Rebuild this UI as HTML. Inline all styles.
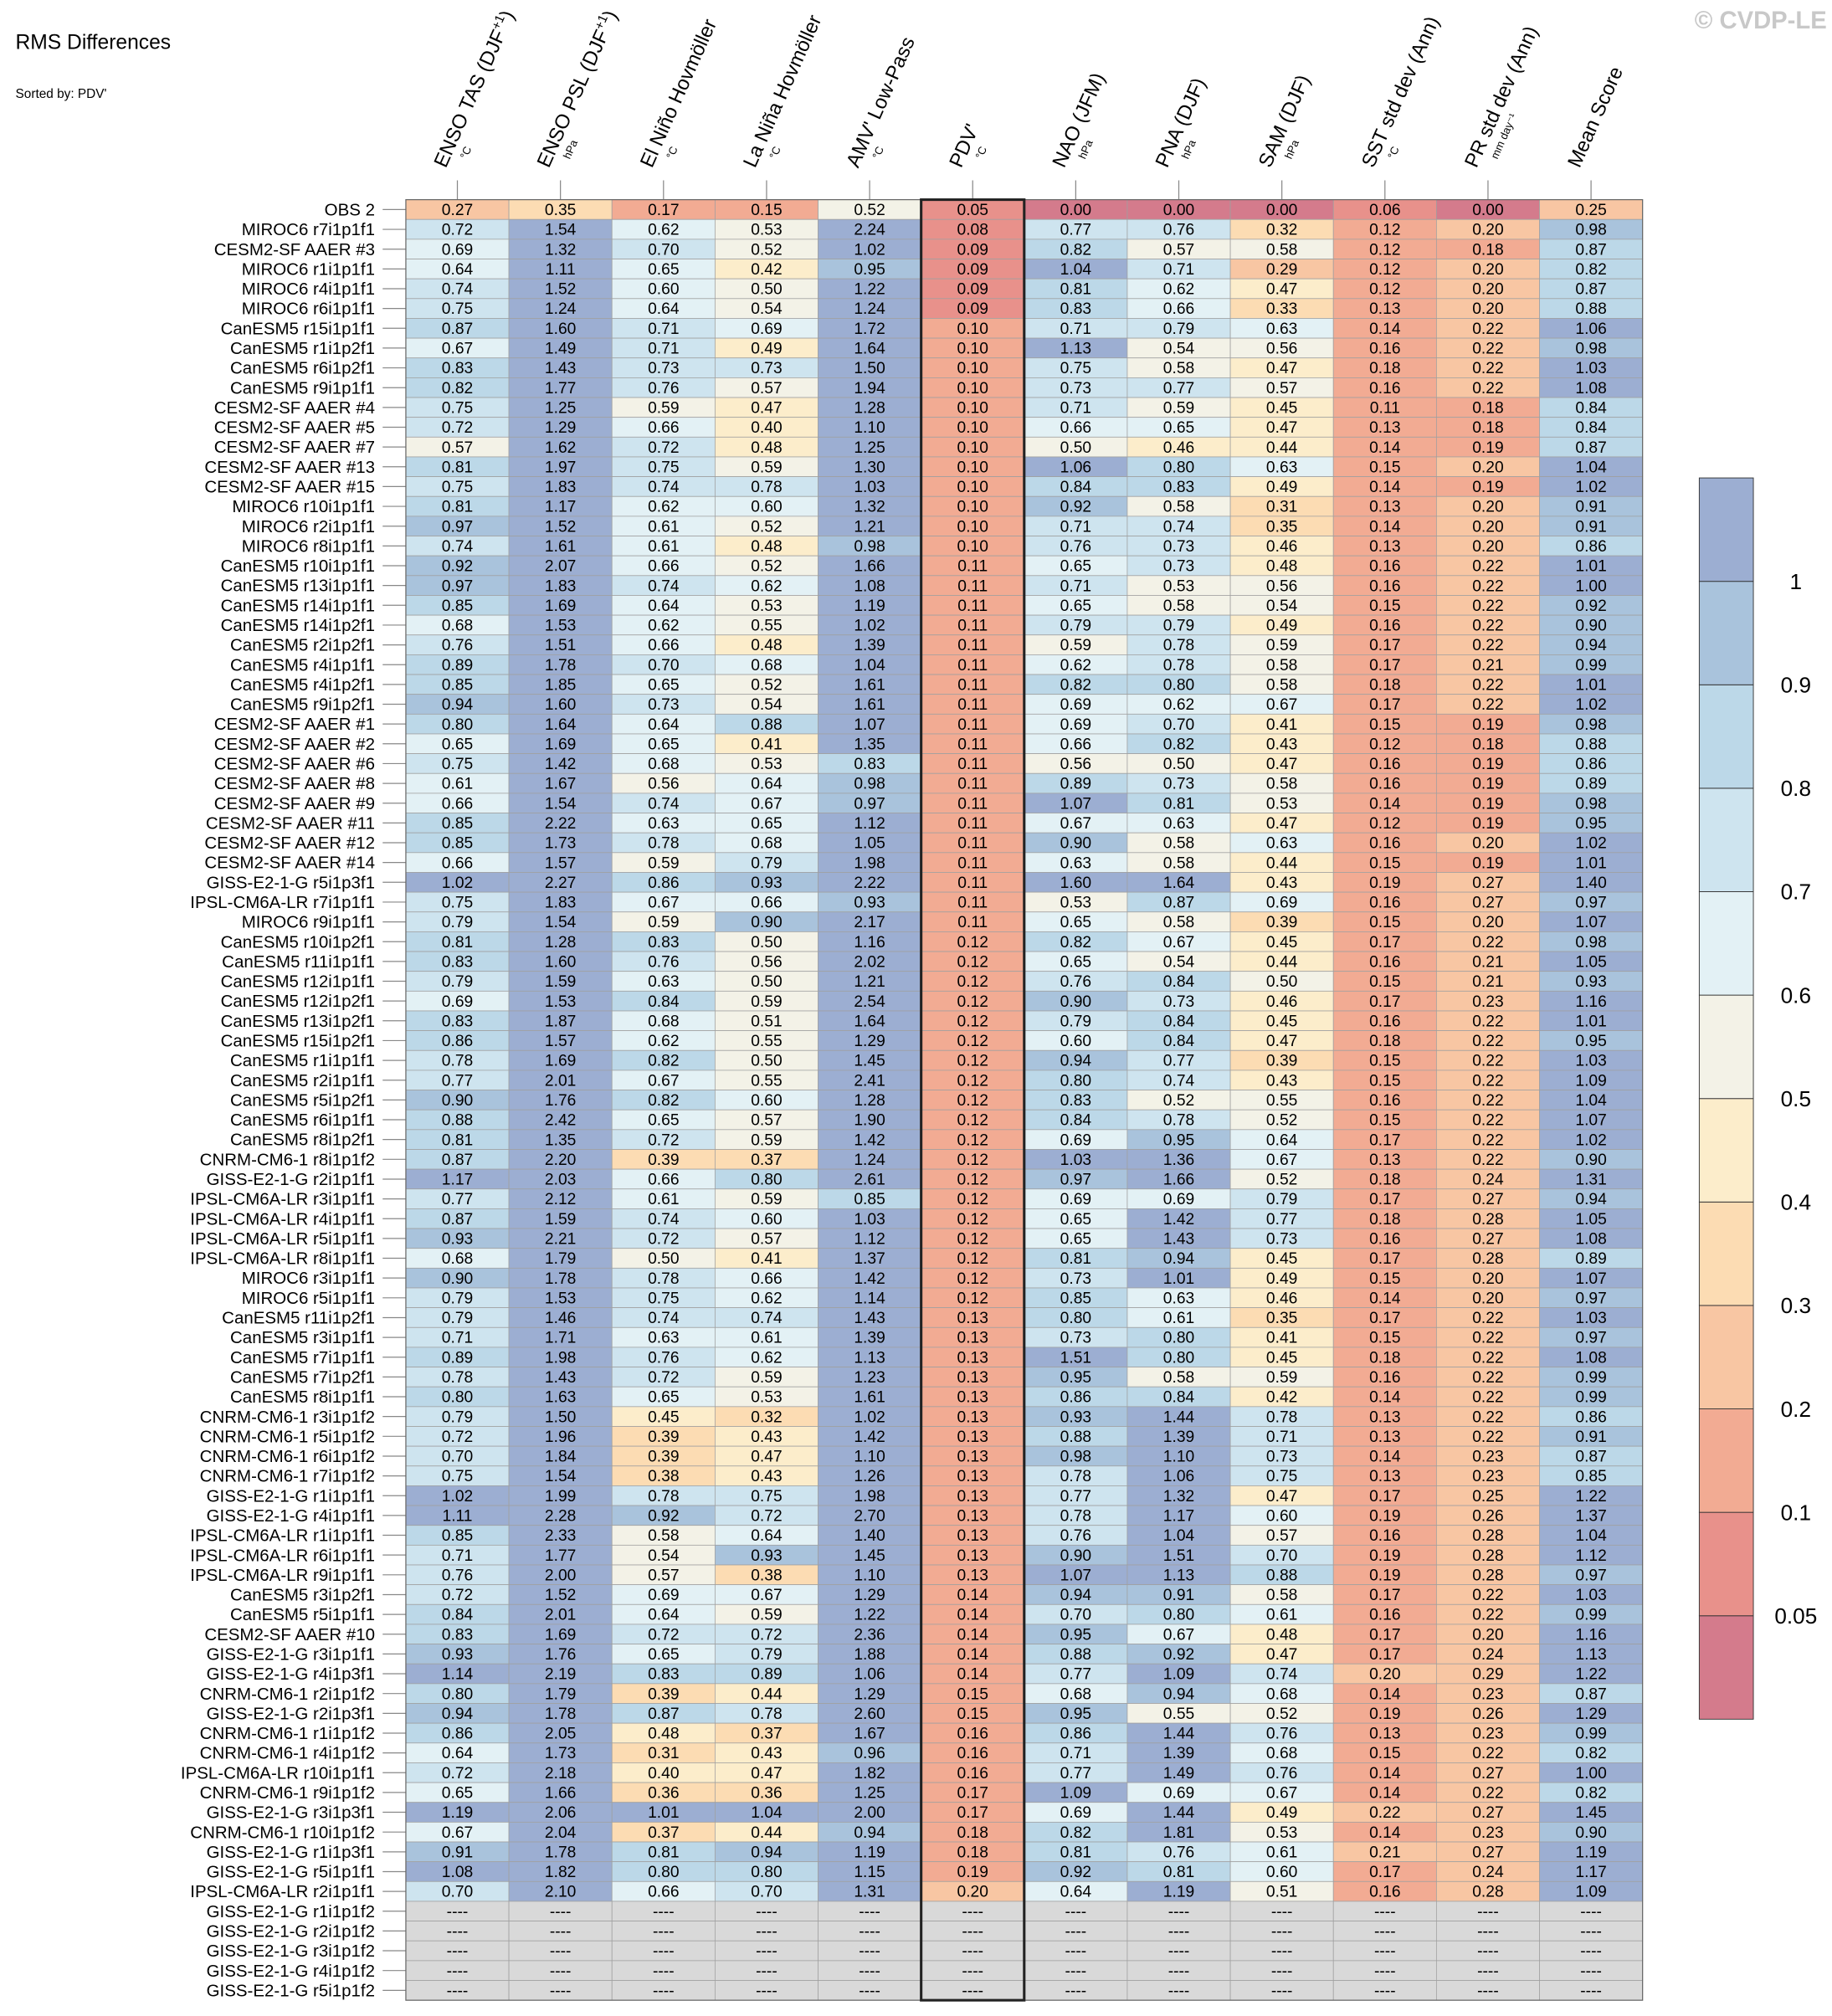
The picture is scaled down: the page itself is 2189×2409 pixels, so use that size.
<!DOCTYPE html>
<html><head><meta charset="utf-8"><style>
html,body{margin:0;padding:0;background:#fff;}
svg{display:block;font-family:"Liberation Sans",sans-serif;}
</style></head><body>
<svg id="chart" width="2189" height="2409" viewBox="0 0 1422 1565" xmlns="http://www.w3.org/2000/svg">
<text x="12" y="38" font-size="16">RMS Differences</text>
<text x="12" y="76" font-size="10">Sorted by: PDV'</text>
<text x="1418" y="22" font-size="19" font-weight="bold" fill="#c8c8c8" text-anchor="end">© CVDP-LE</text>
<g id="heat"></g>
<g id="cbar"></g>
</svg>
<script>
const rowNames = ["OBS 2","MIROC6 r7i1p1f1","CESM2-SF AAER #3","MIROC6 r1i1p1f1","MIROC6 r4i1p1f1","MIROC6 r6i1p1f1","CanESM5 r15i1p1f1","CanESM5 r1i1p2f1","CanESM5 r6i1p2f1","CanESM5 r9i1p1f1","CESM2-SF AAER #4","CESM2-SF AAER #5","CESM2-SF AAER #7","CESM2-SF AAER #13","CESM2-SF AAER #15","MIROC6 r10i1p1f1","MIROC6 r2i1p1f1","MIROC6 r8i1p1f1","CanESM5 r10i1p1f1","CanESM5 r13i1p1f1","CanESM5 r14i1p1f1","CanESM5 r14i1p2f1","CanESM5 r2i1p2f1","CanESM5 r4i1p1f1","CanESM5 r4i1p2f1","CanESM5 r9i1p2f1","CESM2-SF AAER #1","CESM2-SF AAER #2","CESM2-SF AAER #6","CESM2-SF AAER #8","CESM2-SF AAER #9","CESM2-SF AAER #11","CESM2-SF AAER #12","CESM2-SF AAER #14","GISS-E2-1-G r5i1p3f1","IPSL-CM6A-LR r7i1p1f1","MIROC6 r9i1p1f1","CanESM5 r10i1p2f1","CanESM5 r11i1p1f1","CanESM5 r12i1p1f1","CanESM5 r12i1p2f1","CanESM5 r13i1p2f1","CanESM5 r15i1p2f1","CanESM5 r1i1p1f1","CanESM5 r2i1p1f1","CanESM5 r5i1p2f1","CanESM5 r6i1p1f1","CanESM5 r8i1p2f1","CNRM-CM6-1 r8i1p1f2","GISS-E2-1-G r2i1p1f1","IPSL-CM6A-LR r3i1p1f1","IPSL-CM6A-LR r4i1p1f1","IPSL-CM6A-LR r5i1p1f1","IPSL-CM6A-LR r8i1p1f1","MIROC6 r3i1p1f1","MIROC6 r5i1p1f1","CanESM5 r11i1p2f1","CanESM5 r3i1p1f1","CanESM5 r7i1p1f1","CanESM5 r7i1p2f1","CanESM5 r8i1p1f1","CNRM-CM6-1 r3i1p1f2","CNRM-CM6-1 r5i1p1f2","CNRM-CM6-1 r6i1p1f2","CNRM-CM6-1 r7i1p1f2","GISS-E2-1-G r1i1p1f1","GISS-E2-1-G r4i1p1f1","IPSL-CM6A-LR r1i1p1f1","IPSL-CM6A-LR r6i1p1f1","IPSL-CM6A-LR r9i1p1f1","CanESM5 r3i1p2f1","CanESM5 r5i1p1f1","CESM2-SF AAER #10","GISS-E2-1-G r3i1p1f1","GISS-E2-1-G r4i1p3f1","CNRM-CM6-1 r2i1p1f2","GISS-E2-1-G r2i1p3f1","CNRM-CM6-1 r1i1p1f2","CNRM-CM6-1 r4i1p1f2","IPSL-CM6A-LR r10i1p1f1","CNRM-CM6-1 r9i1p1f2","GISS-E2-1-G r3i1p3f1","CNRM-CM6-1 r10i1p1f2","GISS-E2-1-G r1i1p3f1","GISS-E2-1-G r5i1p1f1","IPSL-CM6A-LR r2i1p1f1","GISS-E2-1-G r1i1p1f2","GISS-E2-1-G r2i1p1f2","GISS-E2-1-G r3i1p1f2","GISS-E2-1-G r4i1p1f2","GISS-E2-1-G r5i1p1f2"];
const colNames = ["ENSO TAS (DJF","ENSO PSL (DJF","El Niño Hovmöller","La Niña Hovmöller","AMV' Low-Pass","PDV'","NAO (JFM)","PNA (DJF)","SAM (DJF)","SST std dev (Ann)","PR std dev (Ann)","Mean Score"];
const colSup = ["+1","+1","","","","","","","","","",""];
const colUnits = ["°C","hPa","°C","°C","°C","°C","hPa","hPa","hPa","°C","mm day⁻¹",""];
const values = [
[0.27,0.35,0.17,0.15,0.52,0.05,0.00,0.00,0.00,0.06,0.00,0.25],
[0.72,1.54,0.62,0.53,2.24,0.08,0.77,0.76,0.32,0.12,0.20,0.98],
[0.69,1.32,0.70,0.52,1.02,0.09,0.82,0.57,0.58,0.12,0.18,0.87],
[0.64,1.11,0.65,0.42,0.95,0.09,1.04,0.71,0.29,0.12,0.20,0.82],
[0.74,1.52,0.60,0.50,1.22,0.09,0.81,0.62,0.47,0.12,0.20,0.87],
[0.75,1.24,0.64,0.54,1.24,0.09,0.83,0.66,0.33,0.13,0.20,0.88],
[0.87,1.60,0.71,0.69,1.72,0.10,0.71,0.79,0.63,0.14,0.22,1.06],
[0.67,1.49,0.71,0.49,1.64,0.10,1.13,0.54,0.56,0.16,0.22,0.98],
[0.83,1.43,0.73,0.73,1.50,0.10,0.75,0.58,0.47,0.18,0.22,1.03],
[0.82,1.77,0.76,0.57,1.94,0.10,0.73,0.77,0.57,0.16,0.22,1.08],
[0.75,1.25,0.59,0.47,1.28,0.10,0.71,0.59,0.45,0.11,0.18,0.84],
[0.72,1.29,0.66,0.40,1.10,0.10,0.66,0.65,0.47,0.13,0.18,0.84],
[0.57,1.62,0.72,0.48,1.25,0.10,0.50,0.46,0.44,0.14,0.19,0.87],
[0.81,1.97,0.75,0.59,1.30,0.10,1.06,0.80,0.63,0.15,0.20,1.04],
[0.75,1.83,0.74,0.78,1.03,0.10,0.84,0.83,0.49,0.14,0.19,1.02],
[0.81,1.17,0.62,0.60,1.32,0.10,0.92,0.58,0.31,0.13,0.20,0.91],
[0.97,1.52,0.61,0.52,1.21,0.10,0.71,0.74,0.35,0.14,0.20,0.91],
[0.74,1.61,0.61,0.48,0.98,0.10,0.76,0.73,0.46,0.13,0.20,0.86],
[0.92,2.07,0.66,0.52,1.66,0.11,0.65,0.73,0.48,0.16,0.22,1.01],
[0.97,1.83,0.74,0.62,1.08,0.11,0.71,0.53,0.56,0.16,0.22,1.00],
[0.85,1.69,0.64,0.53,1.19,0.11,0.65,0.58,0.54,0.15,0.22,0.92],
[0.68,1.53,0.62,0.55,1.02,0.11,0.79,0.79,0.49,0.16,0.22,0.90],
[0.76,1.51,0.66,0.48,1.39,0.11,0.59,0.78,0.59,0.17,0.22,0.94],
[0.89,1.78,0.70,0.68,1.04,0.11,0.62,0.78,0.58,0.17,0.21,0.99],
[0.85,1.85,0.65,0.52,1.61,0.11,0.82,0.80,0.58,0.18,0.22,1.01],
[0.94,1.60,0.73,0.54,1.61,0.11,0.69,0.62,0.67,0.17,0.22,1.02],
[0.80,1.64,0.64,0.88,1.07,0.11,0.69,0.70,0.41,0.15,0.19,0.98],
[0.65,1.69,0.65,0.41,1.35,0.11,0.66,0.82,0.43,0.12,0.18,0.88],
[0.75,1.42,0.68,0.53,0.83,0.11,0.56,0.50,0.47,0.16,0.19,0.86],
[0.61,1.67,0.56,0.64,0.98,0.11,0.89,0.73,0.58,0.16,0.19,0.89],
[0.66,1.54,0.74,0.67,0.97,0.11,1.07,0.81,0.53,0.14,0.19,0.98],
[0.85,2.22,0.63,0.65,1.12,0.11,0.67,0.63,0.47,0.12,0.19,0.95],
[0.85,1.73,0.78,0.68,1.05,0.11,0.90,0.58,0.63,0.16,0.20,1.02],
[0.66,1.57,0.59,0.79,1.98,0.11,0.63,0.58,0.44,0.15,0.19,1.01],
[1.02,2.27,0.86,0.93,2.22,0.11,1.60,1.64,0.43,0.19,0.27,1.40],
[0.75,1.83,0.67,0.66,0.93,0.11,0.53,0.87,0.69,0.16,0.27,0.97],
[0.79,1.54,0.59,0.90,2.17,0.11,0.65,0.58,0.39,0.15,0.20,1.07],
[0.81,1.28,0.83,0.50,1.16,0.12,0.82,0.67,0.45,0.17,0.22,0.98],
[0.83,1.60,0.76,0.56,2.02,0.12,0.65,0.54,0.44,0.16,0.21,1.05],
[0.79,1.59,0.63,0.50,1.21,0.12,0.76,0.84,0.50,0.15,0.21,0.93],
[0.69,1.53,0.84,0.59,2.54,0.12,0.90,0.73,0.46,0.17,0.23,1.16],
[0.83,1.87,0.68,0.51,1.64,0.12,0.79,0.84,0.45,0.16,0.22,1.01],
[0.86,1.57,0.62,0.55,1.29,0.12,0.60,0.84,0.47,0.18,0.22,0.95],
[0.78,1.69,0.82,0.50,1.45,0.12,0.94,0.77,0.39,0.15,0.22,1.03],
[0.77,2.01,0.67,0.55,2.41,0.12,0.80,0.74,0.43,0.15,0.22,1.09],
[0.90,1.76,0.82,0.60,1.28,0.12,0.83,0.52,0.55,0.16,0.22,1.04],
[0.88,2.42,0.65,0.57,1.90,0.12,0.84,0.78,0.52,0.15,0.22,1.07],
[0.81,1.35,0.72,0.59,1.42,0.12,0.69,0.95,0.64,0.17,0.22,1.02],
[0.87,2.20,0.39,0.37,1.24,0.12,1.03,1.36,0.67,0.13,0.22,0.90],
[1.17,2.03,0.66,0.80,2.61,0.12,0.97,1.66,0.52,0.18,0.24,1.31],
[0.77,2.12,0.61,0.59,0.85,0.12,0.69,0.69,0.79,0.17,0.27,0.94],
[0.87,1.59,0.74,0.60,1.03,0.12,0.65,1.42,0.77,0.18,0.28,1.05],
[0.93,2.21,0.72,0.57,1.12,0.12,0.65,1.43,0.73,0.16,0.27,1.08],
[0.68,1.79,0.50,0.41,1.37,0.12,0.81,0.94,0.45,0.17,0.28,0.89],
[0.90,1.78,0.78,0.66,1.42,0.12,0.73,1.01,0.49,0.15,0.20,1.07],
[0.79,1.53,0.75,0.62,1.14,0.12,0.85,0.63,0.46,0.14,0.20,0.97],
[0.79,1.46,0.74,0.74,1.43,0.13,0.80,0.61,0.35,0.17,0.22,1.03],
[0.71,1.71,0.63,0.61,1.39,0.13,0.73,0.80,0.41,0.15,0.22,0.97],
[0.89,1.98,0.76,0.62,1.13,0.13,1.51,0.80,0.45,0.18,0.22,1.08],
[0.78,1.43,0.72,0.59,1.23,0.13,0.95,0.58,0.59,0.16,0.22,0.99],
[0.80,1.63,0.65,0.53,1.61,0.13,0.86,0.84,0.42,0.14,0.22,0.99],
[0.79,1.50,0.45,0.32,1.02,0.13,0.93,1.44,0.78,0.13,0.22,0.86],
[0.72,1.96,0.39,0.43,1.42,0.13,0.88,1.39,0.71,0.13,0.22,0.91],
[0.70,1.84,0.39,0.47,1.10,0.13,0.98,1.10,0.73,0.14,0.23,0.87],
[0.75,1.54,0.38,0.43,1.26,0.13,0.78,1.06,0.75,0.13,0.23,0.85],
[1.02,1.99,0.78,0.75,1.98,0.13,0.77,1.32,0.47,0.17,0.25,1.22],
[1.11,2.28,0.92,0.72,2.70,0.13,0.78,1.17,0.60,0.19,0.26,1.37],
[0.85,2.33,0.58,0.64,1.40,0.13,0.76,1.04,0.57,0.16,0.28,1.04],
[0.71,1.77,0.54,0.93,1.45,0.13,0.90,1.51,0.70,0.19,0.28,1.12],
[0.76,2.00,0.57,0.38,1.10,0.13,1.07,1.13,0.88,0.19,0.28,0.97],
[0.72,1.52,0.69,0.67,1.29,0.14,0.94,0.91,0.58,0.17,0.22,1.03],
[0.84,2.01,0.64,0.59,1.22,0.14,0.70,0.80,0.61,0.16,0.22,0.99],
[0.83,1.69,0.72,0.72,2.36,0.14,0.95,0.67,0.48,0.17,0.20,1.16],
[0.93,1.76,0.65,0.79,1.88,0.14,0.88,0.92,0.47,0.17,0.24,1.13],
[1.14,2.19,0.83,0.89,1.06,0.14,0.77,1.09,0.74,0.20,0.29,1.22],
[0.80,1.79,0.39,0.44,1.29,0.15,0.68,0.94,0.68,0.14,0.23,0.87],
[0.94,1.78,0.87,0.78,2.60,0.15,0.95,0.55,0.52,0.19,0.26,1.29],
[0.86,2.05,0.48,0.37,1.67,0.16,0.86,1.44,0.76,0.13,0.23,0.99],
[0.64,1.73,0.31,0.43,0.96,0.16,0.71,1.39,0.68,0.15,0.22,0.82],
[0.72,2.18,0.40,0.47,1.82,0.16,0.77,1.49,0.76,0.14,0.27,1.00],
[0.65,1.66,0.36,0.36,1.25,0.17,1.09,0.69,0.67,0.14,0.22,0.82],
[1.19,2.06,1.01,1.04,2.00,0.17,0.69,1.44,0.49,0.22,0.27,1.45],
[0.67,2.04,0.37,0.44,0.94,0.18,0.82,1.81,0.53,0.14,0.23,0.90],
[0.91,1.78,0.81,0.94,1.19,0.18,0.81,0.76,0.61,0.21,0.27,1.19],
[1.08,1.82,0.80,0.80,1.15,0.19,0.92,0.81,0.60,0.17,0.24,1.17],
[0.70,2.10,0.66,0.70,1.31,0.20,0.64,1.19,0.51,0.16,0.28,1.09],
null,null,null,null,null
];
const levels = [0.05,0.1,0.2,0.3,0.4,0.5,0.6,0.7,0.8,0.9,1];
const levelLabels = ["0.05","0.1","0.2","0.3","0.4","0.5","0.6","0.7","0.8","0.9","1"];
const palette = ["#d47b8c","#e8918b","#f2ab93","#f8c6a3","#fcdcb3","#fcedcb","#f3f2e7","#e3f1f5","#cee4ef","#bcd8e8","#a9c3dc","#9caed2"];

const NS="http://www.w3.org/2000/svg";
function mk(tag,attrs,parent){const e=document.createElementNS(NS,tag);for(const k in attrs)e.setAttribute(k,attrs[k]);parent.appendChild(e);return e;}
const X0=315, CW=80, Y0=155, RH=15.36;
const xCol=i=>X0+i*CW;
const yRow=j=>Y0+j*RH;
function colorFor(v){let b=0;for(let i=0;i<levels.length;i++){if(v>=levels[i]-1e-9)b=i+1;}return palette[b];}
const heat=document.getElementById('heat');
const nC=colNames.length, nR=rowNames.length;

colNames.forEach((n,i)=>{
  const cx=xCol(i)+CW/2;
  const tk=mk('line',{x1:cx,y1:140,x2:cx,y2:Y0,stroke:'#888','stroke-width':0.8},heat);
  
  
  const g=mk('g',{transform:`translate(${cx-9},${131}) rotate(-66)`},heat);
  
  
  const t=mk('text',{x:0,y:0,'font-size':15.5},g);
  t.textContent=n;
  if(colSup[i]){const s=mk('tspan',{'font-size':10,dy:-6},t);s.textContent=colSup[i];const c=mk('tspan',{dy:6},t);c.textContent=')';}
  if(colUnits[i]){const u=mk('text',{x:13,y:12,'font-size':8.5},g);u.textContent=colUnits[i];}
});

for(let j=0;j<nR;j++){
  const y=yRow(j);
  const lab=mk('text',{x:291,y:y+RH/2+4.6,'font-size':13.3,'text-anchor':'end'},heat);
  lab.textContent=rowNames[j];
  
  
  mk('line',{x1:297,y1:y+RH/2,x2:X0,y2:y+RH/2,stroke:'#888','stroke-width':0.8},heat);
  const row=values[j];
  for(let i=0;i<nC;i++){
    const v=row?row[i]:null;
    const r=mk('rect',{x:xCol(i),y:y,width:CW,height:RH,fill:v==null?'#d9d9d9':colorFor(v),stroke:'#a0a0a0','stroke-width':0.5},heat);
    
    
    const t=mk('text',{x:xCol(i)+CW/2,y:y+RH/2+4.3,'font-size':12.5,'text-anchor':'middle'},heat);
    t.textContent=v==null?'----':v.toFixed(2);
    
    
  }
}
const outer=mk('rect',{x:X0,y:Y0,width:CW*nC,height:RH*nR,fill:'none',stroke:'#666','stroke-width':0.8},heat);


const pdv=mk('rect',{x:xCol(5),y:Y0,width:CW,height:RH*nR,fill:'none',stroke:'#222','stroke-width':2},heat);



const cb=document.getElementById('cbar');


const CBX=1319, CBW=42, CBY=371, CBH=80.3;
const nB=palette.length;
for(let k=0;k<nB;k++){
  const y=CBY+(nB-1-k)*CBH;
  const r=mk('rect',{x:CBX,y:y,width:CBW,height:CBH,fill:palette[k],stroke:'#333','stroke-width':0.6},cb);
  
  
}
levels.forEach((lv,k)=>{
  const y=CBY+(nB-1-k)*CBH;
  const t=mk('text',{x:1394,y:y+6,'font-size':17,'text-anchor':'middle'},cb);
  t.textContent=levelLabels[k];
  
  
});
</script>
</body></html>
